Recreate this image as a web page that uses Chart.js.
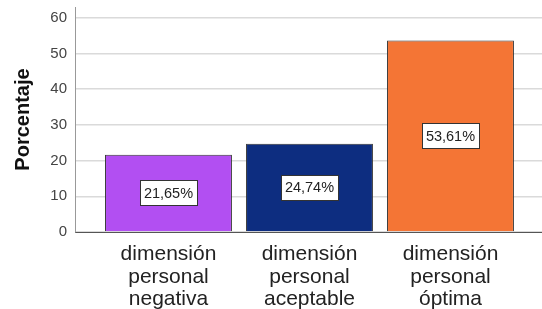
<!DOCTYPE html>
<html>
<head>
<meta charset="utf-8">
<script src="https://cdn.jsdelivr.net/npm/chart.js@4/dist/chart.umd.min.js"></script>
<style>
    html, body { margin: 0; padding: 0; background: #fff; }
    #wrap { width: 542px; height: 309px; }
</style>
</head>
<body>
<div id="wrap"><canvas id="barChart" width="542" height="309"></canvas></div>
<script>
// Chart data
const categories = [
    ['dimensión', 'personal', 'negativa'],
    ['dimensión', 'personal', 'aceptable'],
    ['dimensión', 'personal', 'óptima']
];
const percentages = [21.65, 24.74, 53.61];
const valueLabels = ['21,65%', '24,74%', '53,61%'];
const yTicks = [0, 10, 20, 30, 40, 50, 60];
const barColors = ['#b24ff2', '#0d2d80', '#f47535'];

// Value boxes centred inside each bar
const boxLabels = {
    id: 'boxLabels',
    afterDatasetsDraw(chart) {
        const ctx = chart.ctx;
        const meta = chart.getDatasetMeta(0);
        ctx.save();
        ctx.font = '14.5px "Liberation Sans", Arial, sans-serif';
        ctx.textAlign = 'center';
        ctx.textBaseline = 'middle';
        meta.data.forEach((bar, i) => {
            const text = valueLabels[i];
            const cy = (bar.y + bar.base) / 2;
            const w = Math.round(ctx.measureText(text).width + 8);
            const h = 25;
            const left = Math.round(bar.x - w / 2) + 0.5;
            const top = Math.round(cy - h / 2) + 0.5;
            ctx.fillStyle = '#fff';
            ctx.fillRect(left, top, w, h);
            ctx.strokeStyle = '#333';
            ctx.lineWidth = 1;
            ctx.strokeRect(left, top, w, h);
            ctx.fillStyle = '#222';
            ctx.fillText(text, bar.x, cy + 1);
        });
        ctx.restore();
    }
};

const ctx = document.getElementById('barChart').getContext('2d');
const barChart = new Chart(ctx, {
    type: 'bar',
    data: {
        datasets: [{
            data: percentages.map((v, i) => ({ x: i + 1, y: v })),
            backgroundColor: barColors,
            borderColor: '#333',
            borderWidth: 1,
            barPercentage: 0.9,
            categoryPercentage: 1
        }]
    },
    options: {
        responsive: false,
        animation: false,
        layout: { padding: 0 },
        plugins: {
            legend: { display: false },
            tooltip: { enabled: false }
        },
        scales: {
            x: {
                type: 'linear',
                offset: false,
                min: 0.337,
                max: 3.649,
                afterBuildTicks: (scale) => {
                    scale.ticks = categories.map((c, i) => ({ value: i + 1 }));
                },
                afterFit: (scale) => { scale.height = 77; },
                grid: { display: false, drawTicks: false, offset: false },
                border: { color: '#555', width: 1 },
                ticks: {
                    padding: 11,
                    color: '#222',
                    font: { family: '"Liberation Sans", Arial, sans-serif', size: 21, lineHeight: 1.07 },
                    callback: (v) => categories[v - 1]
                }
            },
            y: {
                min: 0,
                max: 63,
                afterBuildTicks: (scale) => {
                    scale.ticks = yTicks.map(v => ({ value: v }));
                },
                afterFit: (scale) => {
                    scale.width = 75;
                    scale.paddingTop = 7;
                    scale.paddingBottom = 0;
                },
                grid: { color: '#dadada', lineWidth: 1.5, drawTicks: false },
                border: { color: '#999', width: 1 },
                ticks: {
                    padding: 8,
                    color: '#444',
                    font: { family: '"Liberation Sans", Arial, sans-serif', size: 15 }
                },
                title: {
                    display: true,
                    text: 'Porcentaje',
                    color: '#111',
                    padding: { top: 11, bottom: 0 },
                    font: { family: '"Liberation Sans", Arial, sans-serif', size: 20, weight: 'bold', lineHeight: 1.2 }
                }
            }
        }
    },
    plugins: [boxLabels]
});

console.log('Chart drawn');
</script>
</body>
</html>
